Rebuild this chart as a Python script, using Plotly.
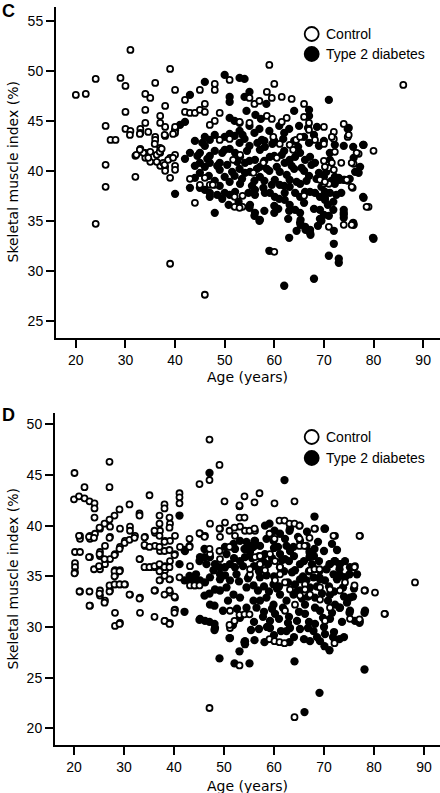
import plotly.graph_objects as go

# ---------------- Data ----------------
# Panel C : (age, skeletal muscle index %)
c_control = [
    (20, 47.6), (22, 47.7), (24, 49.2), (29, 49.3), (30, 48.5), (31, 52.1), (39, 50.2), (36, 48.8),
    (34, 47.7), (35, 47.3), (30, 45.9), (34, 46.1), (40, 48.1), (26, 44.5), (30, 44.2), (31, 44.0),
    (33, 44.2), (33, 43.8), (34, 44.8), (37, 45.5), (37, 44.8), (38, 46.5), (38, 44.4), (38, 43.5),
    (27, 43.1), (28, 43.1), (36, 43.4), (36, 43.1), (40, 44.4), (40, 43.8), (26, 40.6), (26, 38.4),
    (32, 39.4), (32, 41.5), (33, 42.2), (34, 41.8), (35, 41.9), (34, 41.3), (35, 40.9), (37, 42.3),
    (37, 41.8), (37, 40.5), (38, 40.4), (38, 40.0), (39, 41.3), (39, 39.3), (40, 41.6), (40, 40.5),
    (40, 40.1), (42, 47.1), (45, 48.1), (46, 46.7), (48, 48.7), (48, 48.1), (51, 49.1), (42, 45.9),
    (43, 45.8), (44, 45.8), (45, 46.1), (46, 45.9), (49, 45.8), (48, 45.0), (47, 44.6), (49, 43.1),
    (51, 43.2), (43, 39.2), (45, 38.6), (46, 39.3), (47, 38.6), (48, 38.6), (44, 36.8), (52, 37.4),
    (52, 36.4), (24, 34.7), (39, 30.7), (46, 27.6), (60, 31.9),
    (59, 50.6), (86, 48.6), (60, 48.7), (58.5, 47.9), (59.5, 47.3), (61.5, 47.4), (63.5, 47.2),
    (55, 47.3), (56, 46.7), (57, 47.0), (66, 46.7), (66, 45.4), (67, 44.8), (67, 44.1), (62.5, 45.3),
    (61.5, 44.9), (58.5, 45.5), (59.5, 45.2), (55, 44.8), (53, 44.9), (70, 44.4), (72, 43.9),
    (74, 44.7), (72, 43.2), (70, 42.7), (74.8, 43.4), (80, 42.0), (77, 41.7), (76, 40.7), (70, 41.0),
    (71, 40.3), (72, 40.1), (74.8, 39.0), (75.8, 38.3), (79, 36.4), (71, 34.4), (74, 34.6), (70, 38.7),
    (71, 38.7), (53.6, 37.5), (53.6, 36.4), (66, 37.5), (53, 36.3), (75, 43.6),
    (60.5, 41.3), (57.8, 40.8), (55.8, 39.8), (53.1, 41.6), (51.7, 41.1), (47.6, 38.6), (59.8, 43.4),
    (61.1, 42.7), (63.1, 42.6), (64.4, 43.1), (65.2, 43.4), (63.8, 42.1), (68.2, 43.1), (71.6, 43.4),
    (72.2, 41.9), (71.6, 40.8), (73.5, 40.8), (74.6, 39.1), (75.6, 38.4), (75.6, 40.8), (76.6, 41.8),
    (78.6, 36.4), (75.6, 34.6), (70.2, 40.4), (69.2, 39.1), (70.2, 38.9),
    (32.2, 41.6), (33.6, 41.8), (34.6, 41.3), (36.3, 41.6), (36.9, 41.9), (37.6, 40.8), (37.9, 40.6),
    (38.6, 41.1), (39.6, 41.3), (36.3, 40.9), (32.9, 42.1), (35.9, 42.7), (37.3, 42.2), (37.9, 43.6),
    (39.6, 43.7), (30.9, 43.6), (32.9, 43.7), (34.6, 43.9),
]

c_diabetes = [
    (50, 49.6), (53, 49.3), (46, 48.9), (54, 49.2), (55, 47.9), (54, 47.4), (51, 47.4), (51, 46.9),
    (43, 47.6), (58.4, 46.7), (64, 46.0), (67, 46.1), (67, 45.5), (71, 47.1), (74.8, 44.2), (75, 44.3),
    (51, 45.3), (52, 45.0), (53, 44.8), (40, 44.1), (41, 44.6), (42, 44.9), (42, 41.2), (43, 41.8),
    (45, 41.8), (40, 37.7), (78, 42.6), (76, 41.3), (77, 39.8), (73, 39.3), (74, 39.1), (78, 37.3),
    (74, 36.1), (74, 35.8), (76, 34.6), (70, 39.4), (59, 32.0), (62, 28.5), (68, 29.2), (71, 31.5),
    (73, 31.2), (73, 30.8), (72, 32.7), (80, 33.2), (63, 33.3), (67.3, 33.6), (66.3, 34.1),
    (65.3, 34.6), (65.3, 35.1), (48, 35.8), (55, 36.3), (56, 35.5), (57, 35.0), (60, 35.8), (72, 34.0),
    (74, 35.6), (74, 35.3), (69.5, 35.0), (70, 35.6),
    (45, 40.8), (46, 40.4), (47, 40.8), (45, 39.8), (44, 39.3), (43, 38.3), (45, 38.3), (46, 38.1),
    (47, 37.8), (47, 37.4), (47, 43.1), (46, 43.4), (48, 43.6), (50, 43.4), (51, 43.7),
    (50.0, 42.1), (51.0, 42.2), (52.1, 41.8), (49.0, 40.8), (49.0, 40.1), (50.0, 39.4), (51.0, 38.9),
    (50.0, 37.8), (51.0, 37.6), (52.1, 37.9), (53.1, 38.7), (54.1, 39.8), (55.1, 39.9), (54.1, 40.8),
    (53.1, 41.4), (56.1, 41.1), (57.1, 42.1), (58.1, 42.4), (59.1, 41.4), (57.1, 40.4), (57.1, 39.4),
    (56.1, 38.1), (56.1, 37.6), (55.1, 36.6), (56.1, 35.8), (57.1, 35.1), (58.1, 37.8), (59.1, 37.8),
    (60.1, 37.4), (60.1, 39.1), (61.1, 39.9), (62.1, 40.8), (63.1, 41.1), (64.2, 41.4), (65.2, 41.8),
    (66.2, 41.1), (67.2, 41.4), (68.2, 40.8), (63.1, 39.1), (63.1, 38.4), (64.2, 37.8), (65.2, 38.7),
    (65.2, 37.4), (66.2, 37.9), (67.2, 37.9), (68.2, 37.8), (69.2, 37.4), (70.2, 37.1), (71.2, 37.8),
    (72.2, 38.7), (72.2, 39.4), (73.2, 39.1), (74.2, 39.1), (75.2, 39.2), (76.3, 39.9), (77.3, 40.4),
    (77.9, 42.6), (75.9, 42.4), (74.0, 42.5), (72.2, 42.6), (71.2, 41.8), (71.2, 41.1), (71.9, 36.1),
    (71.9, 36.9), (71.0, 35.5), (69.2, 35.2), (67.2, 34.1), (67.2, 33.8), (66.2, 34.4), (65.2, 34.8),
    (65.2, 35.8), (64.2, 36.1), (63.1, 36.6), (62.1, 37.1), (62.1, 37.8), (61.1, 38.6), (69.2, 36.1),
    (70.2, 37.3), (70.2, 37.9), (75.9, 34.8), (77.9, 37.4), (79.9, 33.3),
    (52, 43.5), (53, 44.0), (54, 43.2), (55, 44.5), (56, 43.8), (57, 44.2), (58, 43.0), (59, 44.0),
    (60, 43.0), (61, 44.5), (62, 43.8), (63, 44.2), (64, 43.0), (65, 44.5), (66, 43.4), (67, 42.8),
    (68, 43.6), (69, 42.5), (70, 43.0), (62, 42.0), (60, 41.5), (58, 41.0), (55, 42.5), (53, 42.8),
    (48, 42.0), (47, 41.5), (46, 42.5), (44, 43.0), (44, 40.5), (48, 39.0), (49, 38.5), (52, 39.5),
    (53, 40.2), (55, 41.0), (58, 39.0), (61, 37.2), (63, 36.0), (60, 36.5), (58, 36.0), (66, 36.8),
    (68, 36.2), (67, 39.5), (69, 39.8), (66, 40.0), (64, 40.2), (62, 38.5), (59, 40.0), (56, 39.0),
    (44.5, 41.5), (45.5, 42.8), (46.5, 41.2), (48.5, 40.5), (49.5, 41.8), (50.5, 40.6), (51.5, 39.9),
    (52.5, 40.9), (53.5, 39.2), (54.5, 42.0), (55.5, 38.5), (56.5, 40.2), (57.5, 43.1), (58.5, 40.2),
    (59.5, 38.6), (60.5, 40.4), (61.5, 41.6), (62.5, 39.6), (63.5, 40.5), (64.5, 38.9), (65.5, 40.3),
    (66.5, 39.0), (67.5, 40.6), (68.5, 39.2), (69.5, 38.4), (70.5, 39.9), (71.5, 39.0), (72.5, 37.6),
    (73.5, 37.8), (60.8, 36.2), (62.8, 35.2), (64.5, 34.0), (68.8, 34.5), (70.8, 36.6), (57.8, 38.3),
    (54.8, 37.8), (52.8, 36.9), (50.8, 36.6), (49.5, 37.2), (48.5, 37.6), (46.8, 39.5), (53.6, 43.6),
    (56.6, 42.8), (59.6, 42.7), (61.8, 43.2), (64.8, 42.4), (66.8, 44.3), (68.6, 44.4), (57.3, 45.2),
    (54.4, 46.0), (56.2, 45.6),
]

# Panel D : (age, skeletal muscle index %)
d_control = [
    (20.2, 36.3), (20.2, 35.9), (20.2, 35.4), (20.2, 37.4), (21.2, 37.4), (21.2, 39.0), (21.2, 38.7),
    (21.2, 33.5), (23.2, 39.0), (23.2, 38.7), (23.2, 36.9), (23.2, 32.1), (24.2, 39.2), (25.2, 39.7),
    (25.2, 37.4), (25.2, 37.0), (25.2, 35.7), (25.2, 33.6), (25.2, 33.1), (26.2, 38.0), (26.2, 36.2),
    (26.2, 32.6), (27.2, 39.9), (27.2, 38.9), (27.2, 36.7), (27.2, 33.6), (28.2, 37.2), (28.2, 35.6),
    (28.2, 35.1), (28.2, 34.2), (28.2, 31.4), (28.2, 30.1), (29.2, 39.7), (29.2, 37.9), (29.2, 35.6),
    (29.2, 34.2), (29.2, 30.4), (30.2, 34.2), (30.2, 38.5), (31.2, 39.9), (31.2, 39.5), (31.2, 33.2),
    (32.2, 39.0), (33.2, 36.7), (33.2, 32.9), (33.2, 31.4), (34.2, 38.9), (34.2, 38.0), (34.2, 35.9),
    (35.2, 35.9), (36.2, 39.3), (36.2, 38.0), (36.2, 35.9), (36.2, 33.6), (37.2, 39.5), (37.2, 37.5),
    (37.2, 36.0), (37.2, 34.6), (38.2, 38.5), (38.2, 36.0), (38.2, 35.6), (38.2, 30.6), (39.2, 40.2),
    (39.2, 38.5), (39.2, 36.5), (39.2, 34.7), (39.2, 33.4), (39.2, 30.4), (40.2, 39.0), (40.2, 37.2),
    (40.2, 32.9), (40.2, 31.7), (41.2, 37.9), (43.2, 36.0), (43.2, 34.1), (44.2, 34.1), (45.2, 39.2),
    (46.2, 39.0), (47.2, 40.2), (47.2, 37.2), (49.2, 39.7), (49.2, 38.9), (49.2, 36.7), (50.2, 40.3),
    (51.2, 31.6), (51.2, 29.9), (52.2, 39.0), (53.2, 39.9), (54.2, 39.5), (55.2, 35.2), (55.2, 35.7),
    (56.2, 39.5), (56.2, 36.9), (57.2, 37.0), (57.2, 36.2), (58.2, 35.6), (59.2, 39.2), (59.2, 37.2),
    (60.2, 36.5), (60.2, 34.6), (61.2, 35.9), (61.2, 35.2), (62.2, 34.4), (62.2, 31.6), (63.2, 33.7),
    (64.2, 32.2), (65.2, 33.1), (66.2, 34.2), (66.2, 33.7), (67.2, 35.6), (67.2, 33.2), (68.2, 35.7),
    (68.2, 39.7), (69.2, 32.7), (69.2, 33.9), (70.2, 30.6), (71.2, 33.7), (71.2, 31.9), (72.2, 39.0),
    (73.2, 33.6), (74.2, 34.4), (75.2, 30.8), (76.2, 36.0), (77.2, 39.0), (77.2, 30.6), (78.2, 33.6),
    (80.2, 33.4), (82.2, 31.3), (88.2, 34.4),
    (47.1, 48.5), (49.1, 46.0), (47.1, 44.5), (45.1, 44.1), (27.1, 46.3), (27.1, 43.8), (20.1, 45.2),
    (20.0, 42.6), (21.0, 42.9), (22.1, 42.7), (22.1, 43.8), (23.1, 42.4), (24.1, 42.2), (24.1, 41.7),
    (24.1, 40.8), (35.1, 43.0), (31.1, 42.1), (29.1, 41.6), (28.1, 41.0), (27.1, 40.6), (26.1, 40.2),
    (25.1, 39.8), (33.1, 41.2), (33.1, 41.0), (41.1, 43.2), (41.1, 42.8), (41.1, 42.2), (38.1, 42.1),
    (38.1, 41.7), (37.1, 41.0), (39.1, 40.8), (37.1, 40.2), (39.1, 39.8), (50.1, 42.4), (53.1, 41.9),
    (54.1, 42.9), (57.1, 43.2), (56.1, 42.3), (53.1, 42.0), (53.1, 40.8), (54.1, 40.8), (60.1, 42.2),
    (64.1, 42.4), (68.1, 39.7), (71.9, 39.0), (77.1, 39.0), (61.1, 40.5), (62.1, 40.5), (63.1, 40.2),
    (64.1, 40.2), (65.1, 40.0), (55.1, 39.5), (56.1, 39.7), (59.1, 39.2), (60.1, 38.7), (65.1, 38.7),
    (65.1, 38.0), (66.1, 38.0), (67.1, 38.8), (68.1, 35.7), (69.1, 35.7), (76.1, 35.9), (45.1, 39.25),
    (46.1, 38.9), (49.1, 39.7), (51.1, 39.5), (52.1, 39.8),
    (47.1, 22.0), (64.1, 21.1), (53.1, 26.2), (59.1, 28.8), (60.1, 28.6), (61.1, 28.5), (62.1, 28.4),
    (72.1, 28.4), (77.1, 30.75), (82.1, 31.3), (78.1, 33.6), (76.1, 34.1), (40.1, 31.65), (40.1, 31.4),
    (51.1, 30.2), (52.1, 30.6), (53.1, 31.2), (54.1, 31.25), (55.1, 31.25), (21.1, 33.5), (23.1, 33.5),
    (25.1, 33.3), (26.1, 32.4), (23.1, 32.1), (27.1, 33.5), (27.1, 34.1), (28.1, 34.2), (29.1, 34.2),
    (30.1, 34.2), (31.1, 33.2), (33.1, 32.8), (29.1, 30.3), (36.1, 31.0), (38.1, 30.6), (39.1, 30.3),
    (36.1, 33.6), (38.1, 33.2), (39.1, 33.6), (40.1, 33.0), (37.1, 34.6), (39.1, 34.7), (41.1, 34.9),
    (44.1, 34.1), (45.1, 34.1), (20.1, 35.3),
    (21.0, 39.0), (23.0, 38.9), (24.0, 38.8), (27.1, 38.8), (29.1, 37.7), (28.1, 37.1), (26.1, 36.7),
    (25.1, 37.2), (23.0, 36.9), (24.0, 35.7), (25.0, 36.0), (30.1, 38.3), (31.1, 38.6), (32.1, 38.8),
    (34.1, 38.85), (34.1, 38.1), (35.1, 37.9), (36.1, 39.5), (37.1, 39.0), (37.1, 37.9), (38.1, 38.4),
    (38.1, 37.5), (39.1, 37.6), (40.1, 37.1), (33.1, 36.7), (34.1, 35.9), (35.1, 35.9), (36.1, 36.0),
    (37.1, 36.2), (37.1, 35.5), (38.1, 35.9), (39.1, 35.9), (38.1, 35.05), (28.1, 35.5), (29.1, 35.5),
    (28.1, 35.0), (43.1, 38.7), (43.1, 37.9), (47.1, 37.7), (49.1, 37.5), (51.1, 37.9),
]

d_diabetes = [
    (47.1, 45.2), (41.1, 41.0), (62.1, 44.5), (68.1, 40.9), (70.1, 39.7), (59.1, 40.2), (60.1, 39.5),
    (63.1, 39.5), (65.1, 40.0), (56.1, 38.5), (55.1, 38.0), (54.1, 37.7), (68.1, 37.7), (67.1, 37.4),
    (67.1, 36.9), (71.1, 36.2), (72.1, 36.5), (73.1, 36.2), (73.1, 35.7), (75.1, 35.2), (74.1, 34.9),
    (69.1, 34.9), (42.1, 37.6), (43.1, 38.0), (46.1, 37.7), (46.1, 36.9), (45.1, 36.5), (41.1, 36.2),
    (43.1, 35.05), (44.4, 35.2),
    (66.1, 21.6), (69.1, 23.5), (78.1, 25.8), (49.1, 26.9), (52.1, 26.4), (55.1, 26.4), (64.1, 26.6),
    (53.1, 27.6), (54.1, 28.5), (51.1, 28.9), (56.1, 28.7), (58.1, 28.5), (63.1, 28.5), (70.1, 28.1),
    (71.1, 27.7), (73.1, 28.8), (78.1, 31.4), (77.1, 30.4), (75.1, 31.4), (73.1, 31.9), (45.1, 30.7),
    (47.1, 30.5), (48.1, 30.3), (48.1, 29.7), (42.1, 31.5), (48.1, 32.1), (42.1, 34.6), (43.1, 34.6),
    (44.1, 34.7), (46.1, 33.1), (47.1, 33.3),
    (42.2, 37.5), (45.2, 30.8), (46.2, 30.6), (47.2, 32.2), (48.2, 29.9), (49.2, 33.6), (50.2, 37.9),
    (51.2, 28.9), (52.2, 37.7), (53.2, 30.9), (54.2, 28.6), (54.2, 28.3), (45.2, 34.6), (46.2, 34.4),
    (47.2, 34.9), (48.2, 33.7), (49.2, 34.7), (50.2, 35.1), (51.2, 34.6), (47.2, 36.9), (48.2, 36.2),
    (49.2, 35.9), (50.2, 35.9), (51.2, 36.2), (52.2, 35.9), (53.2, 36.5), (54.2, 36.9), (55.2, 37.4),
    (56.2, 38.5), (57.2, 36.2), (58.2, 40.0), (58.2, 37.2), (59.2, 30.6), (59.2, 29.9), (60.2, 31.3),
    (61.2, 37.2), (61.2, 35.9), (62.2, 38.7), (62.2, 36.7), (63.2, 37.5), (63.2, 39.7), (64.2, 35.6),
    (64.2, 34.2), (65.2, 36.2), (65.2, 34.7), (66.2, 32.2), (66.2, 31.3), (67.2, 37.2), (67.2, 33.9),
    (68.2, 32.9), (68.2, 30.3), (69.2, 34.7), (69.2, 31.6), (70.2, 39.7), (70.2, 34.6), (71.2, 30.8),
    (71.2, 36.2), (72.2, 36.5), (73.2, 35.1), (73.2, 31.9), (74.2, 34.9), (75.2, 32.9), (75.2, 31.6),
    (76.2, 30.6), (75.2, 35.9), (73.2, 36.2), (74.2, 36.5), (72.2, 32.2), (71.2, 33.2), (70.2, 29.3),
    (69.2, 28.6), (78.2, 31.6), (67.9, 29.6), (67.2, 28.6), (63.2, 29.9), (62.5, 29.6), (65.2, 29.8),
    (68.2, 31.9), (59.9, 32.2), (58.5, 32.9), (57.2, 32.6), (55.9, 32.6), (54.5, 31.9), (53.2, 32.9),
    (51.9, 33.2), (50.5, 33.9), (54.5, 33.9), (55.9, 34.1), (57.2, 34.9), (58.5, 35.1), (59.9, 34.2),
    (61.2, 33.2), (62.5, 32.6), (63.9, 33.2), (65.2, 33.6), (66.5, 34.6), (67.9, 34.9), (69.2, 35.6),
    (70.5, 35.7), (71.9, 35.2), (59.9, 38.5), (61.2, 39.2), (62.5, 38.0), (63.9, 37.9), (65.2, 38.5),
    (66.5, 38.0), (58.5, 38.7), (57.2, 38.0), (55.9, 37.9), (54.5, 38.4), (53.2, 38.5), (51.9, 38.2),
    (50.5, 37.2), (49.2, 35.2), (47.9, 35.6), (46.5, 36.2), (45.2, 36.9),
    (56, 36.0), (57, 35.5), (58, 34.0), (59, 33.5), (60, 35.0), (61, 34.0), (62, 35.5), (63, 36.5),
    (64, 37.0), (60, 37.8), (57, 37.0), (55, 35.0), (53, 34.5), (52, 36.8), (66, 36.5), (67, 35.5),
    (68, 37.0), (69, 36.5), (70, 37.5), (71, 34.0), (72, 33.5), (74, 33.0), (76, 33.8), (58, 31.5),
    (61, 30.8), (63, 31.0), (65, 31.5), (67, 30.5), (70, 30.0), (72, 29.5), (74, 29.0), (56, 30.5),
    (57, 29.8), (60, 29.2), (64, 29.0), (66, 28.8),
    (52.5, 35.2), (53.8, 36.0), (54.8, 34.8), (55.6, 36.8), (56.8, 33.6), (57.8, 36.5), (58.8, 36.2),
    (59.6, 36.8), (60.6, 33.8), (61.6, 36.6), (62.8, 34.4), (63.6, 35.4), (64.6, 33.5), (65.8, 35.0),
    (66.8, 33.0), (67.6, 36.2), (68.6, 34.0), (69.6, 33.3), (70.8, 32.6), (71.6, 31.4), (72.6, 34.7),
    (73.8, 33.9), (74.6, 32.4), (75.8, 33.0), (76.6, 35.2), (56.5, 31.9), (57.8, 31.0), (59.6, 31.8),
    (61.8, 31.9), (62.8, 30.4), (64.6, 30.6), (65.6, 32.8), (66.8, 29.9), (68.6, 29.0), (69.8, 30.9),
    (71.8, 29.0), (73.6, 30.5), (55.4, 29.7), (58.6, 30.0), (61.4, 29.6), (52.6, 31.8), (50.8, 32.6),
    (49.8, 31.6), (51.8, 30.2), (60.8, 37.9), (64.8, 38.9), (66.6, 39.4), (68.8, 38.4), (72.6, 37.6),
    (71.6, 38.2),
]

x_tick_vals = [20, 30, 40, 50, 60, 70, 80, 90]
c_y_tick_vals = [25, 30, 35, 40, 45, 50, 55]
d_y_tick_vals = [20, 25, 30, 35, 40, 45, 50]

panel_labels = ["C", "D"]
legend_labels = ["Control", "Type 2 diabetes"]
x_title = "Age (years)"
y_title = "Skeletal muscle index (%)"

# ---------------- Figure ----------------
W, H = 440, 793


def px_x(p):
    return p / W


def px_y(p):
    return 1 - p / H


fig = go.Figure()

FONT = "Liberation Sans, Arial, sans-serif"
TITLE_FONT = "DejaVu Sans, sans-serif"


def add_panel(control, diabetes, xa, ya):
    fig.add_trace(go.Scatter(
        x=[a for a, _ in diabetes], y=[s for _, s in diabetes], mode="markers",
        xaxis=xa, yaxis=ya, name=legend_labels[1],
        marker=dict(symbol="circle", size=8.3, color="black", line=dict(width=0)),
        hoverinfo="skip"))
    fig.add_trace(go.Scatter(
        x=[a for a, _ in control], y=[s for _, s in control], mode="markers",
        xaxis=xa, yaxis=ya, name=legend_labels[0],
        marker=dict(symbol="circle", size=6, color="white", line=dict(width=1.8, color="black")),
        hoverinfo="skip"))


add_panel(c_control, c_diabetes, "x", "y")
add_panel(d_control, d_diabetes, "x2", "y2")

axis_common = dict(
    showline=True, linecolor="black", linewidth=2, ticks="outside", ticklen=8,
    tickwidth=2, tickcolor="black", showgrid=False, zeroline=False,
    tickfont=dict(family=FONT, size=14, color="black"), fixedrange=True,
)

fig.update_layout(
    width=W, height=H, margin=dict(l=0, r=0, t=0, b=0),
    paper_bgcolor="white", plot_bgcolor="white", showlegend=False,
    xaxis=dict(domain=[px_x(56), 1], range=[16, 93.4], tickvals=x_tick_vals, anchor="y", **axis_common),
    yaxis=dict(domain=[px_y(337.7), px_y(7)], range=[23.3, 56.4], tickvals=c_y_tick_vals, anchor="x", **axis_common),
    xaxis2=dict(domain=[px_x(55), 1], range=[16.2, 93.2], tickvals=x_tick_vals, anchor="y2", **axis_common),
    yaxis2=dict(domain=[px_y(745), px_y(412.7)], range=[18.35, 51.15], tickvals=d_y_tick_vals, anchor="x2", **axis_common),
)

annotations = []
shapes = []
panels = [
    # label_y, xtitle_y, ytitle_y, legend_y1, legend_y2
    (11, 377, 172, 34, 54),
    (415, 786, 579, 437, 458),
]
for label, (ly, xty, yty, l1, l2) in zip(panel_labels, panels):
    annotations.append(dict(text="<b>%s</b>" % label, x=px_x(0), y=px_y(ly), xref="paper", yref="paper",
                            xanchor="left", yanchor="middle", showarrow=False,
                            font=dict(family=FONT, size=18, color="black")))
    annotations.append(dict(text=x_title, x=px_x(248), y=px_y(xty), xref="paper", yref="paper",
                            xanchor="center", yanchor="middle", showarrow=False,
                            font=dict(family=TITLE_FONT, size=14, color="black")))
    annotations.append(dict(text=y_title, x=px_x(12.5), y=px_y(yty), xref="paper", yref="paper",
                            xanchor="center", yanchor="middle", showarrow=False, textangle=-90,
                            font=dict(family=TITLE_FONT, size=14, color="black")))
    for txt, yy, filled in [(legend_labels[0], l1, False), (legend_labels[1], l2, True)]:
        annotations.append(dict(text=txt, x=px_x(324), y=px_y(yy), xref="paper", yref="paper",
                                xanchor="left", yanchor="middle", showarrow=False,
                                font=dict(family=FONT, size=14, color="black")))
        shapes.append(dict(type="circle", xref="paper", yref="paper",
                           xsizemode="pixel", ysizemode="pixel",
                           xanchor=px_x(311.7), yanchor=px_y(yy),
                           x0=-7, x1=7, y0=-7, y1=7,
                           fillcolor="black" if filled else "white",
                           line=dict(color="black", width=1.8)))

fig.update_layout(annotations=annotations, shapes=shapes)

fig.write_html(
    "out.html",
    config={"displayModeBar": False, "staticPlot": True},
    post_script="document.body.style.margin='0';document.body.style.padding='0';"
                "document.documentElement.style.overflow='hidden';",
)
